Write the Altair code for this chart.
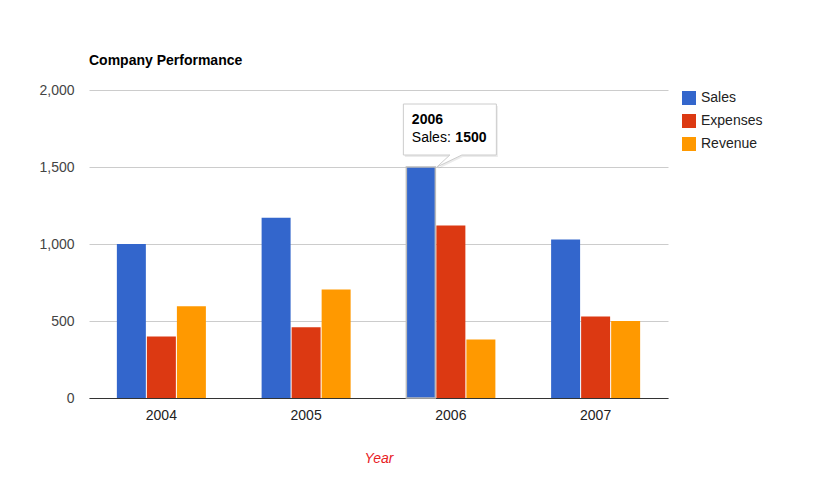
import altair as alt
import pandas as pd

years = ["2004", "2005", "2006", "2007"]
series = ["Sales", "Expenses", "Revenue"]
sales = [1000, 1170, 1500, 1030]
expenses = [400, 460, 1120, 530]
revenue = [595, 705, 380, 500]
colors = ["#3366cc", "#dc3912", "#ff9900"]
y_ticks = [0, 500, 1000, 1500, 2000]

tip_year = ["2006"]
tip_series = ["Sales"]
tip_value = [1500]

rows = []
for i, yr in enumerate(years):
    for s, vals in zip(series, [sales, expenses, revenue]):
        rows.append({"Year": yr, "Series": s, "Value": vals[i]})
df = pd.DataFrame(rows)
tip = pd.DataFrame({"Year": tip_year, "Series": tip_series, "Value": tip_value})

FONT = "Liberation Sans"
FS = 14

x = alt.X(
    "Year:N",
    sort=years,
    scale=alt.Scale(paddingInner=0.385, paddingOuter=0.1925),
    axis=alt.Axis(
        title="Year",
        labelAngle=0,
        labelFontSize=FS,
        labelColor="#222222",
        labelFont=FONT,
        ticks=False,
        labelPadding=10,
        domainColor="#333333",
        domainWidth=1,
        grid=False,
        titleFont=FONT,
        titleFontSize=FS,
        titleFontStyle="italic",
        titleFontWeight="normal",
        titleColor="#e8201f",
        titlePadding=29,
    ),
)
xo = alt.XOffset("Series:N", sort=series, scale=alt.Scale(paddingInner=0.034, paddingOuter=0))
y = alt.Y(
    "Value:Q",
    scale=alt.Scale(domain=[0, 2000], nice=False),
    axis=alt.Axis(
        title=None,
        values=y_ticks,
        format=",d",
        labelFontSize=FS,
        labelColor="#444444",
        labelFont=FONT,
        ticks=False,
        labelPadding=15,
        domain=False,
        grid=True,
        gridColor="#cccccc",
    ),
)

bars = alt.Chart(df).mark_bar().encode(
    x=x,
    xOffset=xo,
    y=y,
    color=alt.Color(
        "Series:N",
        sort=series,
        scale=alt.Scale(domain=series, range=colors),
        legend=alt.Legend(
            title=None,
            orient="none",
            legendX=593,
            legendY=1,
            symbolType="square",
            symbolSize=196,
            symbolStrokeWidth=0,
            labelFontSize=FS,
            labelFont=FONT,
            labelColor="#222222",
            labelOffset=5,
            rowPadding=9,
            padding=0,
        ),
    ),
    stroke=alt.condition(
        "datum.Year == '2006' && datum.Series == 'Sales'",
        alt.value("#bbbbbb"),
        alt.value("transparent"),
    ),
    strokeWidth=alt.value(1.5),
)

box_path = "M-17.5,-63 H75.5 V-12 H41 L16,0 L29,-12 H-17.5 Z"
shadow_path = "M-16,-61 H77 V-10 H42 L17,2 L30,-10 H-16 Z"

enc = dict(
    x=alt.X("Year:N", sort=years),
    xOffset=alt.XOffset("Series:N", sort=series),
    y="Value:Q",
)

shadow = alt.Chart(tip).mark_point(
    shape=shadow_path, size=4, filled=True, fill="#000000", opacity=0.08, strokeWidth=0
).encode(**enc)

box = alt.Chart(tip).mark_point(
    shape=box_path, size=4, filled=False, fill="#ffffff", fillOpacity=1, stroke="#cccccc",
    strokeWidth=1, opacity=1
).encode(**enc)

t1 = alt.Chart(tip).mark_text(
    align="left", baseline="middle", dx=-9, dy=-47, fontSize=FS, fontWeight="bold", font=FONT, color="#000000"
).encode(text="Year:N", **enc)

t2 = alt.Chart(tip).transform_calculate(lab="datum.Series + ':'").mark_text(
    align="left", baseline="middle", dx=-9, dy=-29.5, fontSize=FS, font=FONT, color="#000000"
).encode(text="lab:N", **enc)

t3 = alt.Chart(tip).mark_text(
    align="left", baseline="middle", dx=34.5, dy=-29.5, fontSize=FS, fontWeight="bold", font=FONT, color="#000000"
).encode(text="Value:Q", **enc)

chart = (
    alt.layer(bars, shadow, box, t1, t2, t3)
    .properties(
        width=579,
        height=308,
        autosize=alt.AutoSizeParams(type="none"),
        padding={"left": 81, "top": 82, "right": 143, "bottom": 83},
        background="#ffffff",
        title=alt.TitleParams(
            "Company Performance",
            anchor="start",
            frame="group",
            fontSize=FS,
            fontWeight="bold",
            font=FONT,
            color="#000000",
            offset=15,
        ),
    )
    .configure_view(stroke="transparent", strokeWidth=0)
)

chart.save("out.html", embed_options={"renderer": "svg", "actions": False})
